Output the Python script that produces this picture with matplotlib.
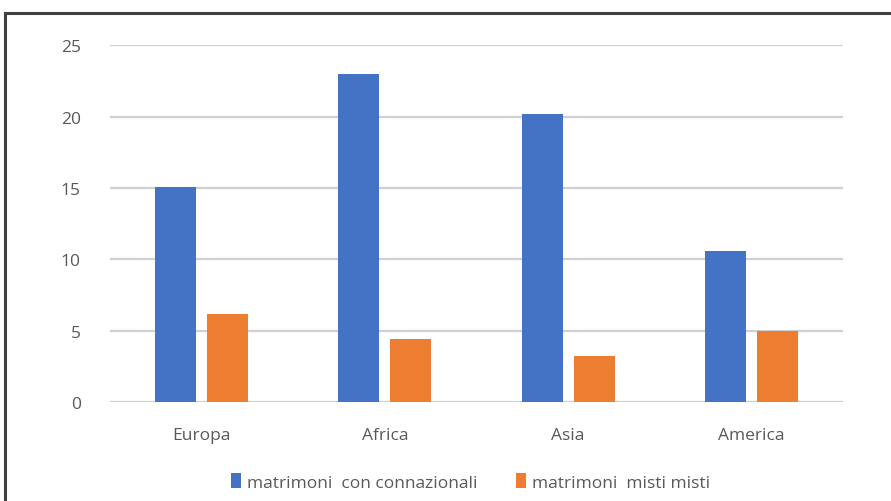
import matplotlib.pyplot as plt
from matplotlib.patches import Rectangle
import numpy as np

regions = ['Europa', 'Africa', 'Asia', 'America']
connazionali = [15.1, 23.0, 20.2, 10.6]
misti = [6.2, 4.4, 3.2, 5.0]
yticks = [0, 5, 10, 15, 20, 25]

plt.rcParams['font.family'] = ['Open Sans', 'DejaVu Sans']

fig = plt.figure(figsize=(8.91, 5.02), dpi=100)
ax = fig.add_axes([0.1235, 0.197, 0.8225, 0.711])

x = np.arange(len(regions))
w = 0.224
gap = 0.06
ax.bar(x - (w + gap) / 2, connazionali, w, color='#4472c4', label='matrimoni  con connazionali', zorder=3)
ax.bar(x + (w + gap) / 2, misti, w, color='#ed7d31', label='matrimoni  misti misti', zorder=3)

ax.set_xlim(-0.5, 3.5)
ax.set_ylim(0, 25)
ax.set_yticks(yticks)
ax.set_xticks(x)
ax.set_xticklabels(regions)
ax.yaxis.grid(True, color='#d0d0d0', lw=1.6, zorder=0)
ax.tick_params(length=0, colors='#595959', labelsize=12.5)
ax.tick_params(axis='y', pad=21)
ax.tick_params(axis='x', pad=18)
for s in ax.spines.values():
    s.set_visible(False)

leg = fig.legend(loc='center', bbox_to_anchor=(0.528, 0.038), ncol=2, frameon=False,
                 fontsize=12.5, handlelength=0.6, handleheight=0.9, handletextpad=0.35,
                 columnspacing=2.2)
for t in leg.get_texts():
    t.set_color('#595959')

# chart border
fig.patches.append(Rectangle((0.006, -0.1), 1.2, 1.072, transform=fig.transFigure,
                             fill=False, edgecolor='#404040', lw=2.2, zorder=10))

fig.savefig('out.png', dpi=100)
